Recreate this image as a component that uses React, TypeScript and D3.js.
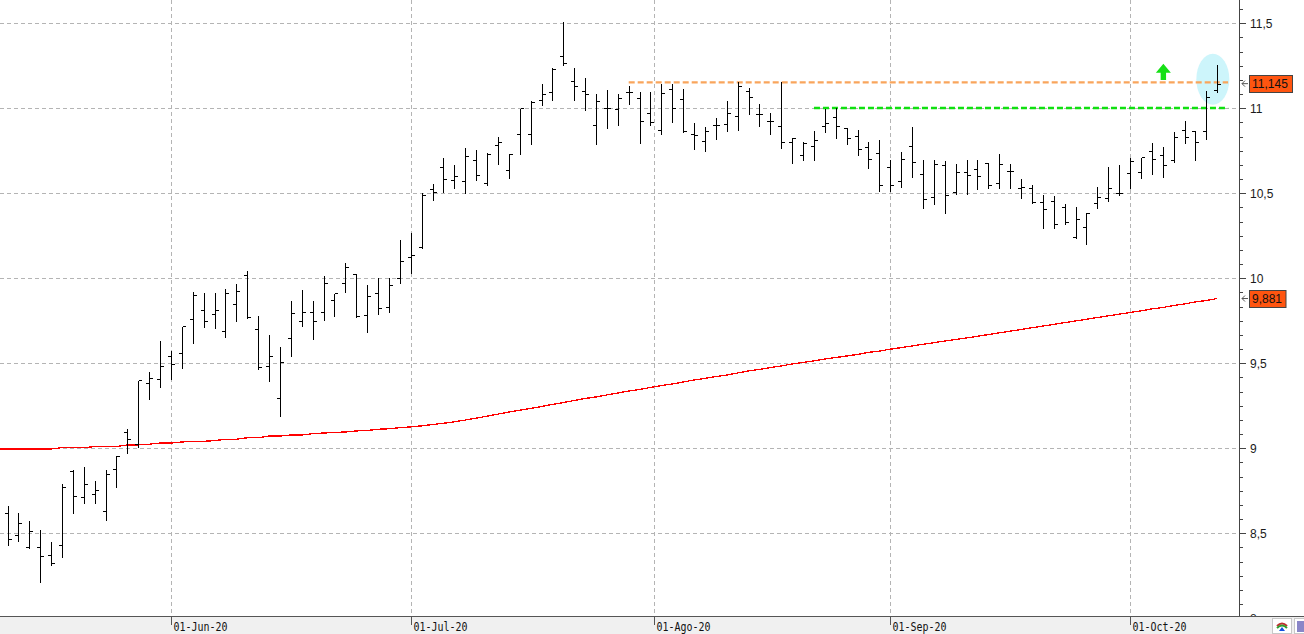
import * as d3 from "d3";

// daily bars, 11-May-2020 .. 13-Oct-2020 (trading days)
const opens = [
  8.621, 8.488, 8.421, 8.419, 8.37, 8.429, 8.868, 8.712, 8.729, 8.631, 8.876, 9.098,
  9.024, 9.382, 9.406, 9.545, 9.559, 9.759, 9.812, 9.79, 9.69, 9.849, 10.019, 9.7,
  9.484, 9.296, 9.647, 9.749, 9.802, 9.8, 9.871, 9.971, 10.024, 9.782, 9.912, 9.831,
  10.0, 10.125, 10.182, 10.524, 10.653, 10.576, 10.571, 10.694, 10.562, 10.784, 10.637, 10.849,
  10.849, 11.049, 11.096, 11.308, 11.161, 11.102, 10.9, 11.0, 10.994, 11.098, 11.059, 10.974,
  10.871, 11.112, 11.053, 10.849, 10.808, 10.9, 10.908, 10.955, 11.1, 10.965, 10.925, 10.894,
  10.802, 10.724, 10.776, 10.894, 10.951, 10.886, 10.837, 10.774, 10.737, 10.653, 10.572, 10.778,
  10.612, 10.476, 10.665, 10.506, 10.625, 10.645, 10.676, 10.559, 10.629, 10.531, 10.529, 10.447,
  10.455, 10.421, 10.245, 10.3, 10.441, 10.474, 10.5, 10.618, 10.624, 10.751, 10.725, 10.696,
  10.872, 10.868, 10.868, 11.108,
];
const highs = [
  8.666, 8.625, 8.579, 8.527, 8.455, 8.796, 8.876, 8.896, 8.814, 8.878, 8.96, 9.118,
  9.402, 9.455, 9.637, 9.578, 9.719, 9.925, 9.918, 9.918, 9.941, 9.971, 10.049, 9.784,
  9.672, 9.602, 9.872, 9.937, 9.872, 10.02, 9.915, 10.094, 10.03, 9.966, 10.009, 10.006,
  10.231, 10.274, 10.506, 10.559, 10.715, 10.672, 10.772, 10.76, 10.741, 10.837, 10.735, 11.0,
  11.049, 11.149, 11.241, 11.514, 11.241, 11.182, 11.088, 11.112, 11.088, 11.135, 11.102, 11.102,
  11.147, 11.147, 11.118, 10.919, 10.898, 10.947, 11.047, 11.161, 11.124, 11.029, 10.976, 11.162,
  10.829, 10.809, 10.874, 11.0, 11.009, 10.886, 10.876, 10.808, 10.818, 10.702, 10.749, 10.896,
  10.702, 10.702, 10.694, 10.678, 10.702, 10.702, 10.682, 10.739, 10.678, 10.59, 10.555, 10.496,
  10.49, 10.441, 10.427, 10.388, 10.543, 10.661, 10.672, 10.715, 10.712, 10.804, 10.778, 10.868,
  10.931, 10.872, 11.108, 11.261,
];
const lows = [
  8.437, 8.461, 8.418, 8.221, 8.318, 8.368, 8.627, 8.682, 8.686, 8.586, 8.78, 8.976,
  9.014, 9.298, 9.368, 9.412, 9.48, 9.627, 9.721, 9.715, 9.662, 9.756, 9.771, 9.47,
  9.404, 9.198, 9.551, 9.727, 9.651, 9.76, 9.786, 9.927, 9.78, 9.69, 9.798, 9.808,
  9.98, 10.037, 10.182, 10.468, 10.515, 10.535, 10.509, 10.582, 10.555, 10.68, 10.598, 10.739,
  10.798, 11.025, 11.055, 11.259, 11.056, 10.994, 10.798, 10.892, 10.909, 11.033, 10.804, 10.906,
  10.856, 10.925, 10.865, 10.768, 10.753, 10.827, 10.874, 10.88, 10.971, 10.9, 10.853, 10.771,
  10.686, 10.7, 10.704, 10.865, 10.833, 10.794, 10.729, 10.656, 10.518, 10.519, 10.543, 10.604,
  10.421, 10.445, 10.392, 10.504, 10.504, 10.533, 10.539, 10.539, 10.539, 10.476, 10.447, 10.304,
  10.3, 10.324, 10.241, 10.206, 10.418, 10.461, 10.494, 10.535, 10.594, 10.621, 10.604, 10.692,
  10.804, 10.7, 10.824, 11.102,
];
const closes = [
  8.465, 8.559, 8.512, 8.366, 8.324, 8.771, 8.718, 8.788, 8.753, 8.847, 8.956, 9.055,
  9.402, 9.412, 9.484, 9.496, 9.719, 9.902, 9.749, 9.814, 9.914, 9.927, 9.771, 9.476,
  9.543, 9.506, 9.798, 9.802, 9.749, 9.971, 9.912, 10.065, 9.78, 9.894, 9.824, 9.959,
  10.102, 10.135, 10.49, 10.506, 10.586, 10.602, 10.719, 10.608, 10.729, 10.8, 10.731, 11.0,
  11.039, 11.082, 11.229, 11.265, 11.133, 11.082, 11.043, 11.0, 11.062, 11.098, 10.924, 10.919,
  11.088, 11.0, 10.865, 10.84, 10.868, 10.9, 10.971, 11.131, 11.065, 10.965, 10.925, 10.802,
  10.827, 10.798, 10.814, 10.914, 10.894, 10.824, 10.759, 10.7, 10.547, 10.547, 10.7, 10.684,
  10.467, 10.672, 10.488, 10.625, 10.606, 10.6, 10.547, 10.672, 10.629, 10.535, 10.447, 10.408,
  10.318, 10.329, 10.347, 10.382, 10.48, 10.533, 10.504, 10.69, 10.712, 10.702, 10.666, 10.833,
  10.829, 10.8, 11.068, 11.145,
];
// moving average (red)
const movingAvg = [
  8.996, 8.996, 8.996, 8.996, 8.996, 9.004, 9.004, 9.004, 9.01, 9.01, 9.01, 9.02,
  9.02, 9.024, 9.031, 9.031, 9.037, 9.041, 9.041, 9.045, 9.053, 9.053, 9.062, 9.062,
  9.072, 9.072, 9.078, 9.078, 9.086, 9.09, 9.093, 9.096, 9.102, 9.105, 9.112, 9.115,
  9.121, 9.126, 9.132, 9.14, 9.147, 9.156, 9.166, 9.177, 9.189, 9.201, 9.213, 9.224,
  9.234, 9.246, 9.258, 9.269, 9.281, 9.293, 9.302, 9.314, 9.325, 9.337, 9.346, 9.358,
  9.369, 9.378, 9.39, 9.402, 9.411, 9.422, 9.431, 9.443, 9.455, 9.464, 9.475, 9.484,
  9.496, 9.505, 9.514, 9.525, 9.534, 9.543, 9.552, 9.564, 9.572, 9.583, 9.592, 9.602,
  9.612, 9.621, 9.631, 9.64, 9.649, 9.659, 9.669, 9.679, 9.689, 9.699, 9.709, 9.719,
  9.729, 9.739, 9.749, 9.759, 9.769, 9.779, 9.789, 9.799, 9.808, 9.82, 9.828, 9.84,
  9.849, 9.861, 9.869, 9.881,
];

const firstDay = "2020-05-11";
const monthTicks = [
  { date: "2020-06-01", label: "01-Jun-20" },
  { date: "2020-07-01", label: "01-Jul-20" },
  { date: "2020-08-01", label: "01-Ago-20" },
  { date: "2020-09-01", label: "01-Sep-20" },
  { date: "2020-10-01", label: "01-Oct-20" },
];
const yTicks = [8, 8.5, 9, 9.5, 10, 10.5, 11, 11.5];

// horizontal levels drawn on the chart: [fromBar, toBar, value]
const resistance = { from: 57, to: 112, value: 11.152 };
const support = { from: 74, to: 112, value: 11.002 };
const highlight = { bar: 110.6, value: 11.171 };
const arrowMark = { bar: 106.06, top: 11.262, base: 11.166 };
const lastClose = 11.145;
const lastAvg = 9.881;

const W = 1304;
const H = 634;
const plotR = 1239;
const plotB = 616;

// weekdays from the first bar
const days: Date[] = [];
{
  const d = new Date(firstDay + "T00:00:00Z");
  while (days.length < closes.length) {
    const wd = d.getUTCDay();
    if (wd !== 0 && wd !== 6) days.push(new Date(d));
    d.setUTCDate(d.getUTCDate() + 1);
  }
}
function dateIndex(s: string) {
  const t = new Date(s + "T00:00:00Z").getTime();
  for (let i = 0; i < days.length - 1; i++) {
    const a = days[i].getTime(), b = days[i + 1].getTime();
    if (t >= a && t < b) return i + (t - a) / (b - a);
  }
  return days.length - 1;
}

const fmt = (v: number) => String(v).replace(".", ",");

export default function App() {
  const x = d3.scaleLinear().domain([0, closes.length - 1]).range([7.5, 1217.2]);
  const y = d3.scaleLinear().domain([8.0135, 11.637]).range([plotB, 0]);
  const px = (i: number) => Math.round(x(i)) + 0.5;
  const py = (v: number) => Math.round(y(v)) + 0.5;

  // the average carries on to the left edge of the plot
  const maLine = d3
    .line<number>()
    .x((_, i) => (i === 0 ? 0 : x(i - 1)))
    .y(d => y(d))([movingAvg[0], ...movingAvg]);

  const minor = d3.range(0, 48).map(k => 8 + (k * 0.5) / 6).filter(v => y(v) >= 0 && y(v) <= plotB);

  const ax = arrowMark;
  const axX = x(ax.bar);
  const tipY = y(ax.top);
  const baseY = y(ax.base);
  const headY = tipY + 9;

  const font = "'Liberation Sans', Arial, sans-serif";

  return (
    <svg width={W} height={H} style={{ position: "absolute", left: 0, top: 0, background: "#fff" }}>
      <defs>
        <clipPath id="plot">
          <rect x={0} y={0} width={plotR} height={plotB} />
        </clipPath>
      </defs>

      {/* grid */}
      <g stroke="#b4b4b4" strokeDasharray="4,3" shapeRendering="crispEdges">
        {yTicks.filter(v => y(v) < plotB).map(v => (
          <line key={v} x1={0} x2={plotR} y1={py(v)} y2={py(v)} />
        ))}
        {monthTicks.map(m => (
          <line key={m.date} x1={px(dateIndex(m.date))} x2={px(dateIndex(m.date))} y1={0} y2={plotB} />
        ))}
      </g>

      <g clipPath="url(#plot)">
        <ellipse cx={x(highlight.bar)} cy={y(highlight.value)} rx={16.5} ry={25.5} fill="#cdf5fb" />

        <path d={maLine ?? ""} fill="none" stroke="#ff0000" strokeWidth={1.3} shapeRendering="crispEdges" />

        <line x1={x(resistance.from)} x2={x(resistance.to)} y1={y(resistance.value)} y2={y(resistance.value)}
          stroke="#f9a55c" strokeWidth={2.2} strokeDasharray="6,3" />
        <line x1={x(support.from)} x2={x(support.to)} y1={y(support.value)} y2={y(support.value)}
          stroke="#10e010" strokeWidth={2.4} strokeDasharray="6,3" />

        {/* OHLC bars */}
        <g stroke="#000" strokeWidth={1} shapeRendering="crispEdges">
          {closes.map((c, i) => (
            <g key={i}>
              <line x1={px(i)} x2={px(i)} y1={py(highs[i])} y2={py(lows[i]) + 1} />
              <line x1={px(i) - 3.5} x2={px(i)} y1={py(opens[i])} y2={py(opens[i])} />
              <line x1={px(i)} x2={px(i) + 3.5} y1={py(c)} y2={py(c)} />
            </g>
          ))}
        </g>

        <path
          d={`M${axX},${tipY} L${axX + 7.5},${headY} L${axX + 2.7},${headY} L${axX + 2.7},${baseY} L${axX - 2.7},${baseY} L${axX - 2.7},${headY} L${axX - 7.5},${headY} Z`}
          fill="#16e016"
        />
      </g>

      {/* right axis */}
      <g fontFamily={font} fontSize={12} fill="#1a1a1a">
        {yTicks.map(v => (
          <text key={v} x={1250} y={y(v) + 4.5}>{fmt(v)}</text>
        ))}
      </g>
      <g stroke="#444" shapeRendering="crispEdges">
        <line x1={plotR + 0.5} x2={plotR + 0.5} y1={0} y2={plotB} />
        {minor.map((v, k) => (
          <line key={k} x1={plotR} x2={plotR + (Math.abs(v * 2 - Math.round(v * 2)) < 1e-6 ? 7 : 4)} y1={py(v)} y2={py(v)} />
        ))}
      </g>

      {[{ v: lastClose, w: 43 }, { v: lastAvg, w: 36.5 }].map(b => (
        <g key={b.v}>
          <path d={`M1248,${y(b.v)} H1242 M1245,${y(b.v) - 3} L1242,${y(b.v)} L1245,${y(b.v) + 3}`}
            stroke="#555" fill="none" strokeWidth={1} />
          <rect x={1249.5} y={Math.round(y(b.v)) - 8.5} width={b.w} height={17} fill="#ff5510" stroke="#444" />
          <text x={1252} y={y(b.v) + 4.5} fontFamily={font} fontSize={12} fill="#111">{fmt(b.v)}</text>
        </g>
      ))}

      {/* bottom date strip */}
      <rect x={0} y={plotB} width={W} height={H - plotB} fill="#f0f0f0" />
      <line x1={0} x2={W} y1={plotB + 0.5} y2={plotB + 0.5} stroke="#555" shapeRendering="crispEdges" />
      {monthTicks.map(m => {
        const tx = px(dateIndex(m.date));
        return (
          <g key={m.date}>
            <line x1={tx} x2={tx} y1={plotB} y2={plotB + 9} stroke="#555" shapeRendering="crispEdges" />
            <text x={tx + 2} y={631} fontFamily="'DejaVu Sans Mono', monospace" fontSize={12.5}
              textLength={54} lengthAdjust="spacingAndGlyphs" fill="#111">{m.label}</text>
          </g>
        );
      })}

      {/* small toolbar icons */}
      <rect x={1272.5} y={618.5} width={19} height={15} fill="#fff" stroke="#c8c8c8" />
      <path d="M1277,626 q5,-5 10,0" stroke="#c03030" strokeWidth={2} fill="none" />
      <path d="M1277,628 q5,-5 10,0" stroke="#30a030" strokeWidth={2} fill="none" />
      <path d="M1282,627 l3,4 h-6 z" fill="#1050e0" />
      <rect x={1294.5} y={618.5} width={10} height={15} fill="#fff" stroke="#c8c8c8" />
      <rect x={1297} y={621} width={7} height={11} fill="#8a86c8" />
    </svg>
  );
}
